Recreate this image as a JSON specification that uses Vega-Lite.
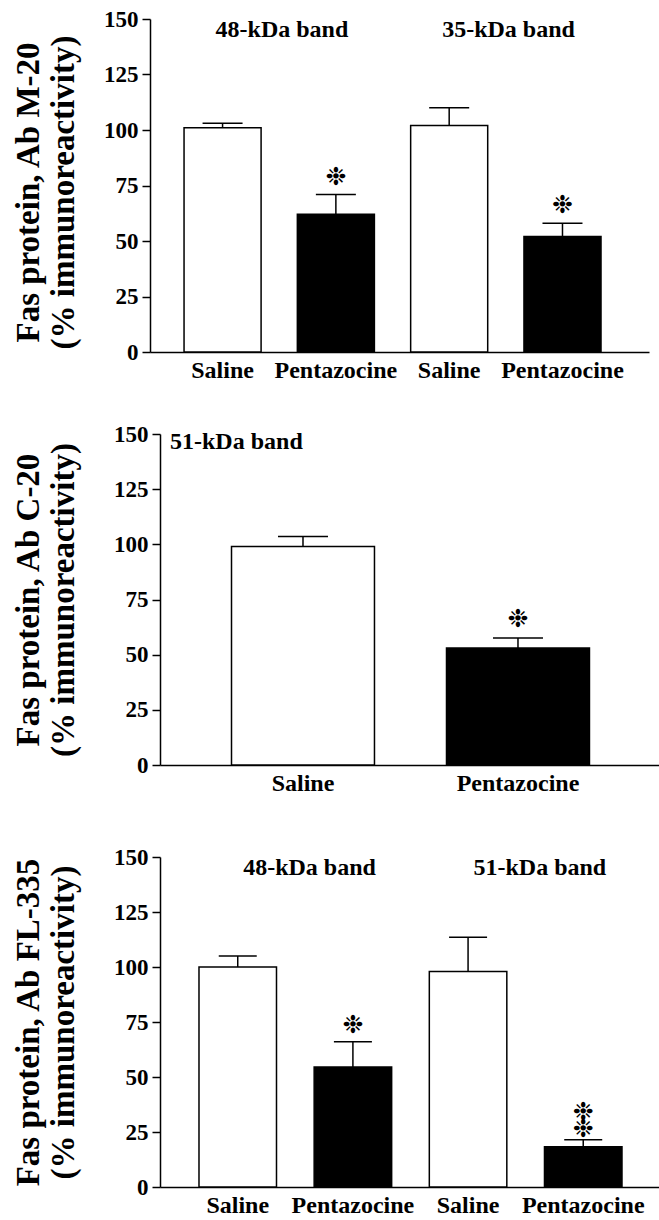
{
  "$schema": "https://vega.github.io/schema/vega-lite/v6.json",
  "background": "white",
  "padding": {"left": 12, "top": 8, "right": 0, "bottom": 0},
  "config": {
    "view": {"stroke": null},
    "font": "Liberation Serif",
    "axisY": {
      "grid": false, "domainColor": "black", "domainWidth": 1.5, "tickColor": "black", "tickWidth": 1.5, "tickSize": 8,
      "labelFont": "Liberation Serif", "labelFontWeight": "bold", "labelFontSize": 23, "labelColor": "black", "labelPadding": 4,
      "labelFlush": false, "labelOverlap": false,
      "titleFont": "Liberation Serif", "titleFontWeight": "bold", "titleFontSize": 33, "titleLineHeight": 35, "titleColor": "black"
    },
    "axisX": {
      "grid": false, "domainColor": "black", "domainWidth": 1.5, "ticks": false, "tickSize": 0,
      "labelFont": "Liberation Serif", "labelFontWeight": "bold", "labelFontSize": 24, "labelColor": "black", "labelPadding": 6,
      "labelAngle": 0, "title": null,
      "labelExpr": "datum.label[0] == 'S' ? 'Saline' : 'Pentazocine'"
    },
    "tick": {"opacity": 1},
    "text": {"color": "black"}
  },
  "datasets": {
    "m20": [
      {"cat": "S1", "trt": "Saline", "v": 101, "hi": 103},
      {"cat": "P1", "trt": "Pentazocine", "v": 62, "hi": 71},
      {"cat": "S2", "trt": "Saline", "v": 102, "hi": 110},
      {"cat": "P2", "trt": "Pentazocine", "v": 52, "hi": 58}
    ],
    "m20lab": [
      {"cat": "P1", "v": 142, "t": "48-kDa band"},
      {"cat": "P2", "v": 142, "t": "35-kDa band"}
    ],
    "m20ast": [
      {"cat": "P1", "v": 79, "t": "\u2749"},
      {"cat": "P2", "v": 66, "t": "\u2749"}
    ],
    "c20": [
      {"cat": "S", "trt": "Saline", "v": 99, "hi": 103.5},
      {"cat": "P", "trt": "Pentazocine", "v": 53, "hi": 57.5}
    ],
    "c20lab": [
      {"cat": "S", "v": 143, "t": "51-kDa band"}
    ],
    "c20ast": [
      {"cat": "P", "v": 66, "t": "\u2749"}
    ],
    "fl": [
      {"cat": "S1", "trt": "Saline", "v": 100, "hi": 105},
      {"cat": "P1", "trt": "Pentazocine", "v": 54.5, "hi": 66},
      {"cat": "S2", "trt": "Saline", "v": 98, "hi": 113.5},
      {"cat": "P2", "trt": "Pentazocine", "v": 18.3, "hi": 21.5}
    ],
    "fllab": [
      {"cat": "P1", "v": 142, "t": "48-kDa band"},
      {"cat": "P2", "v": 142, "t": "51-kDa band"}
    ],
    "flast": [
      {"cat": "P1", "v": 73.5, "t": "\u2749"},
      {"cat": "P2", "v": 34, "t": "\u2749\n\u2749"}
    ]
  },
  "spacing": 41,
  "vconcat": [
    {
      "width": 489, "height": 333,
      "layer": [
        {
          "data": {"name": "m20"},
          "mark": {"type": "bar", "stroke": "black", "strokeWidth": 1.5},
          "encoding": {
            "x": {"field": "cat", "type": "nominal", "scale": {"domain": ["S1", "P1", "S2", "P2"], "range": [-10, 489], "paddingInner": 0.32, "paddingOuter": 0.362, "align": 0.415}},
            "y": {"field": "v", "type": "quantitative", "scale": {"domain": [0, 150], "nice": false}, "axis": {"values": [0, 25, 50, 75, 100, 125, 150], "offset": 10, "title": ["Fas protein, Ab M-20", "(% immunoreactivity)"], "titlePadding": 23, "titleY": 173}},
            "fill": {"field": "trt", "type": "nominal", "scale": {"domain": ["Saline", "Pentazocine"], "range": ["white", "black"]}, "legend": null}
          }
        },
        {
          "data": {"name": "m20"},
          "mark": {"type": "rule", "color": "black", "strokeWidth": 1.5},
          "encoding": {"x": {"field": "cat", "type": "nominal"}, "y": {"field": "v", "type": "quantitative"}, "y2": {"field": "hi"}}
        },
        {
          "data": {"name": "m20"},
          "mark": {"type": "tick", "color": "black", "size": 40, "thickness": 1.5, "opacity": 1},
          "encoding": {"x": {"field": "cat", "type": "nominal"}, "y": {"field": "hi", "type": "quantitative"}}
        },
        {
          "data": {"name": "m20lab"},
          "mark": {"type": "text", "font": "Liberation Serif", "fontWeight": "bold", "fontSize": 24, "align": "center", "baseline": "alphabetic"},
          "encoding": {"x": {"field": "cat", "type": "nominal", "bandPosition": -0.2}, "y": {"field": "v", "type": "quantitative"}, "text": {"field": "t"}}
        },
        {
          "data": {"name": "m20ast"},
          "mark": {"type": "text", "font": "DejaVu Sans", "fontSize": 25, "lineHeight": 17, "lineBreak": "\n", "align": "center", "baseline": "middle"},
          "encoding": {"x": {"field": "cat", "type": "nominal"}, "y": {"field": "v", "type": "quantitative"}, "text": {"field": "t"}}
        }
      ]
    },
    {
      "spacing": 51,
      "vconcat": [
        {
          "width": 499, "height": 331,
          "layer": [
            {
              "data": {"name": "c20"},
              "mark": {"type": "bar", "stroke": "black", "strokeWidth": 1.5},
              "encoding": {
                "x": {"field": "cat", "type": "nominal", "scale": {"domain": ["S", "P"], "paddingInner": 0.335, "paddingOuter": 0.328, "align": 0.507}},
                "y": {"field": "v", "type": "quantitative", "scale": {"domain": [0, 150], "nice": false}, "axis": {"values": [0, 25, 50, 75, 100, 125, 150], "title": ["Fas protein, Ab C-20", "(% immunoreactivity)"], "titlePadding": 33}},
                "fill": {"field": "trt", "type": "nominal", "scale": {"domain": ["Saline", "Pentazocine"], "range": ["white", "black"]}, "legend": null}
              }
            },
            {
              "data": {"name": "c20"},
              "mark": {"type": "rule", "color": "black", "strokeWidth": 1.5},
              "encoding": {"x": {"field": "cat", "type": "nominal"}, "y": {"field": "v", "type": "quantitative"}, "y2": {"field": "hi"}}
            },
            {
              "data": {"name": "c20"},
              "mark": {"type": "tick", "color": "black", "size": 50, "thickness": 1.5, "opacity": 1},
              "encoding": {"x": {"field": "cat", "type": "nominal"}, "y": {"field": "hi", "type": "quantitative"}}
            },
            {
              "data": {"name": "c20lab"},
              "mark": {"type": "text", "font": "Liberation Serif", "fontWeight": "bold", "fontSize": 24, "align": "left", "baseline": "alphabetic"},
              "encoding": {"x": {"field": "cat", "type": "nominal", "bandPosition": -0.43}, "y": {"field": "v", "type": "quantitative"}, "text": {"field": "t"}}
            },
            {
              "data": {"name": "c20ast"},
              "mark": {"type": "text", "font": "DejaVu Sans", "fontSize": 25, "lineHeight": 17, "lineBreak": "\n", "align": "center", "baseline": "middle"},
              "encoding": {"x": {"field": "cat", "type": "nominal"}, "y": {"field": "v", "type": "quantitative"}, "text": {"field": "t"}}
            }
          ]
        },
        {
          "width": 499, "height": 330,
          "layer": [
            {
              "data": {"name": "fl"},
              "mark": {"type": "bar", "stroke": "black", "strokeWidth": 1.5},
              "encoding": {
                "x": {"field": "cat", "type": "nominal", "scale": {"domain": ["S1", "P1", "S2", "P2"], "paddingInner": 0.327, "paddingOuter": 0.33, "align": 0.513}},
                "y": {"field": "v", "type": "quantitative", "scale": {"domain": [0, 150], "nice": false}, "axis": {"values": [0, 25, 50, 75, 100, 125, 150], "title": ["Fas protein, Ab FL-335", "(% immunoreactivity)"], "titlePadding": 33}},
                "fill": {"field": "trt", "type": "nominal", "scale": {"domain": ["Saline", "Pentazocine"], "range": ["white", "black"]}, "legend": null}
              }
            },
            {
              "data": {"name": "fl"},
              "mark": {"type": "rule", "color": "black", "strokeWidth": 1.5},
              "encoding": {"x": {"field": "cat", "type": "nominal"}, "y": {"field": "v", "type": "quantitative"}, "y2": {"field": "hi"}}
            },
            {
              "data": {"name": "fl"},
              "mark": {"type": "tick", "color": "black", "size": 38, "thickness": 1.5, "opacity": 1},
              "encoding": {"x": {"field": "cat", "type": "nominal"}, "y": {"field": "hi", "type": "quantitative"}}
            },
            {
              "data": {"name": "fllab"},
              "mark": {"type": "text", "font": "Liberation Serif", "fontWeight": "bold", "fontSize": 24, "align": "center", "baseline": "alphabetic"},
              "encoding": {"x": {"field": "cat", "type": "nominal", "bandPosition": -0.06}, "y": {"field": "v", "type": "quantitative"}, "text": {"field": "t"}}
            },
            {
              "data": {"name": "flast"},
              "mark": {"type": "text", "font": "DejaVu Sans", "fontSize": 25, "lineHeight": 17, "lineBreak": "\n", "align": "center", "baseline": "middle"},
              "encoding": {"x": {"field": "cat", "type": "nominal"}, "y": {"field": "v", "type": "quantitative"}, "text": {"field": "t"}}
            }
          ]
        }
      ]
    }
  ]
}
